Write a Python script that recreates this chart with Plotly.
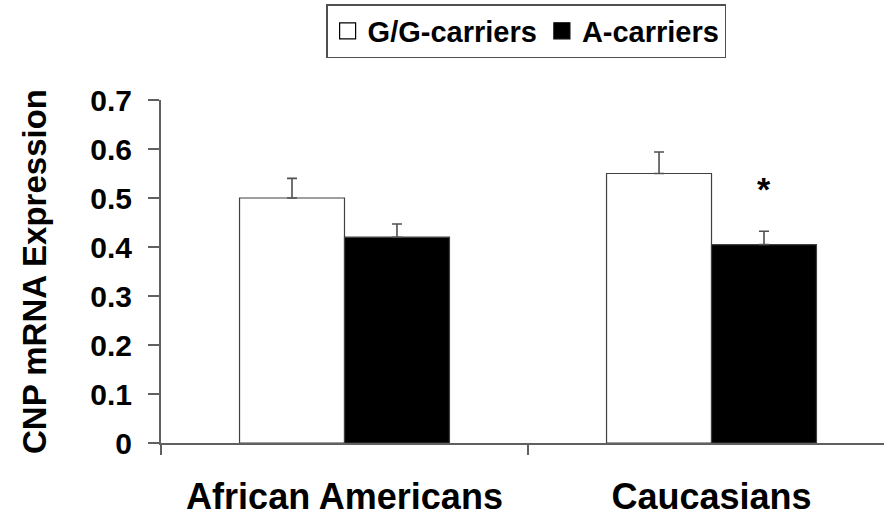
import plotly.graph_objects as go

# Mean CNP mRNA expression by genotype group, with SEM (upper bars only)
groups = ["African Americans", "Caucasians"]
gg_mean = [0.50, 0.55]
gg_sem = [0.040, 0.044]
a_mean = [0.42, 0.405]
a_sem = [0.027, 0.027]
series_names = ["G/G-carriers", "A-carriers"]
y_ticks = [0, 0.1, 0.2, 0.3, 0.4, 0.5, 0.6, 0.7]
y_tick_text = ["0", "0.1", "0.2", "0.3", "0.4", "0.5", "0.6", "0.7"]
sig_group = "Caucasians"   # A-carriers differ significantly here

FONT = "Liberation Sans, Arial, sans-serif"
AXIS_GREY = "#606060"
BAR_GAP = 0.428

fig = go.Figure()

for name, means, sems, fill in [
    (series_names[0], gg_mean, gg_sem, "white"),
    (series_names[1], a_mean, a_sem, "black"),
]:
    fig.add_trace(go.Bar(
        x=groups, y=means, name=name, showlegend=False,
        marker=dict(color=fill, line=dict(color="#404040", width=1.2)),
        error_y=dict(type="data", symmetric=False, array=sems,
                     arrayminus=[0] * len(sems),
                     color="#505050", thickness=1.6, width=5),
    ))
    # legend entry drawn with a larger square swatch
    fig.add_trace(go.Scatter(
        x=[None], y=[None], mode="markers", name=name,
        marker=dict(symbol="square", size=16, color=fill,
                    line=dict(color="black", width=1.2)),
    ))

# significance marker above the A-carriers bar
sig_idx = groups.index(sig_group)
bar_w = (1 - BAR_GAP) / 2
fig.add_annotation(
    x=sig_idx + bar_w / 2, y=0.476, xref="x", yref="y",
    text="<b>*</b>", showarrow=False, yanchor="bottom",
    font=dict(family=FONT, size=34, color="black"),
)

fig.update_layout(
    width=884, height=517,
    margin=dict(l=161, r=0, t=100, b=68),
    paper_bgcolor="white", plot_bgcolor="white",
    barmode="group", bargap=BAR_GAP, bargroupgap=0,
    font=dict(family=FONT, color="black"),
    legend=dict(
        orientation="h", x=0.505, xanchor="center",
        y=1 - 4 / 517, yref="container", yanchor="top",
        bordercolor="#505050", borderwidth=1.5, bgcolor="white",
        font=dict(family=FONT, size=29, color="black", weight="bold"),
        itemsizing="trace",
    ),
    xaxis=dict(
        range=[-0.5, 1.47], showline=True, linecolor=AXIS_GREY, linewidth=2,
        ticks="outside", tickson="boundaries", ticklen=10, tickwidth=2,
        tickcolor=AXIS_GREY, showgrid=False, zeroline=False,
        tickfont=dict(family=FONT, size=36, color="black", weight="bold"),
        ticklabelstandoff=21,
    ),
    yaxis=dict(
        range=[0, 0.7], showline=True, linecolor=AXIS_GREY, linewidth=2,
        ticks="outside", ticklen=11, tickwidth=2, tickcolor=AXIS_GREY,
        tickvals=y_ticks, ticktext=y_tick_text, showgrid=False, zeroline=False,
        tickfont=dict(family=FONT, size=30, color="black", weight="bold"),
        ticklabelstandoff=10,
        title=dict(text="CNP mRNA Expression", standoff=34,
                   font=dict(family=FONT, size=33, color="black", weight="bold")),
    ),
)

fig.write_html("out.html")
